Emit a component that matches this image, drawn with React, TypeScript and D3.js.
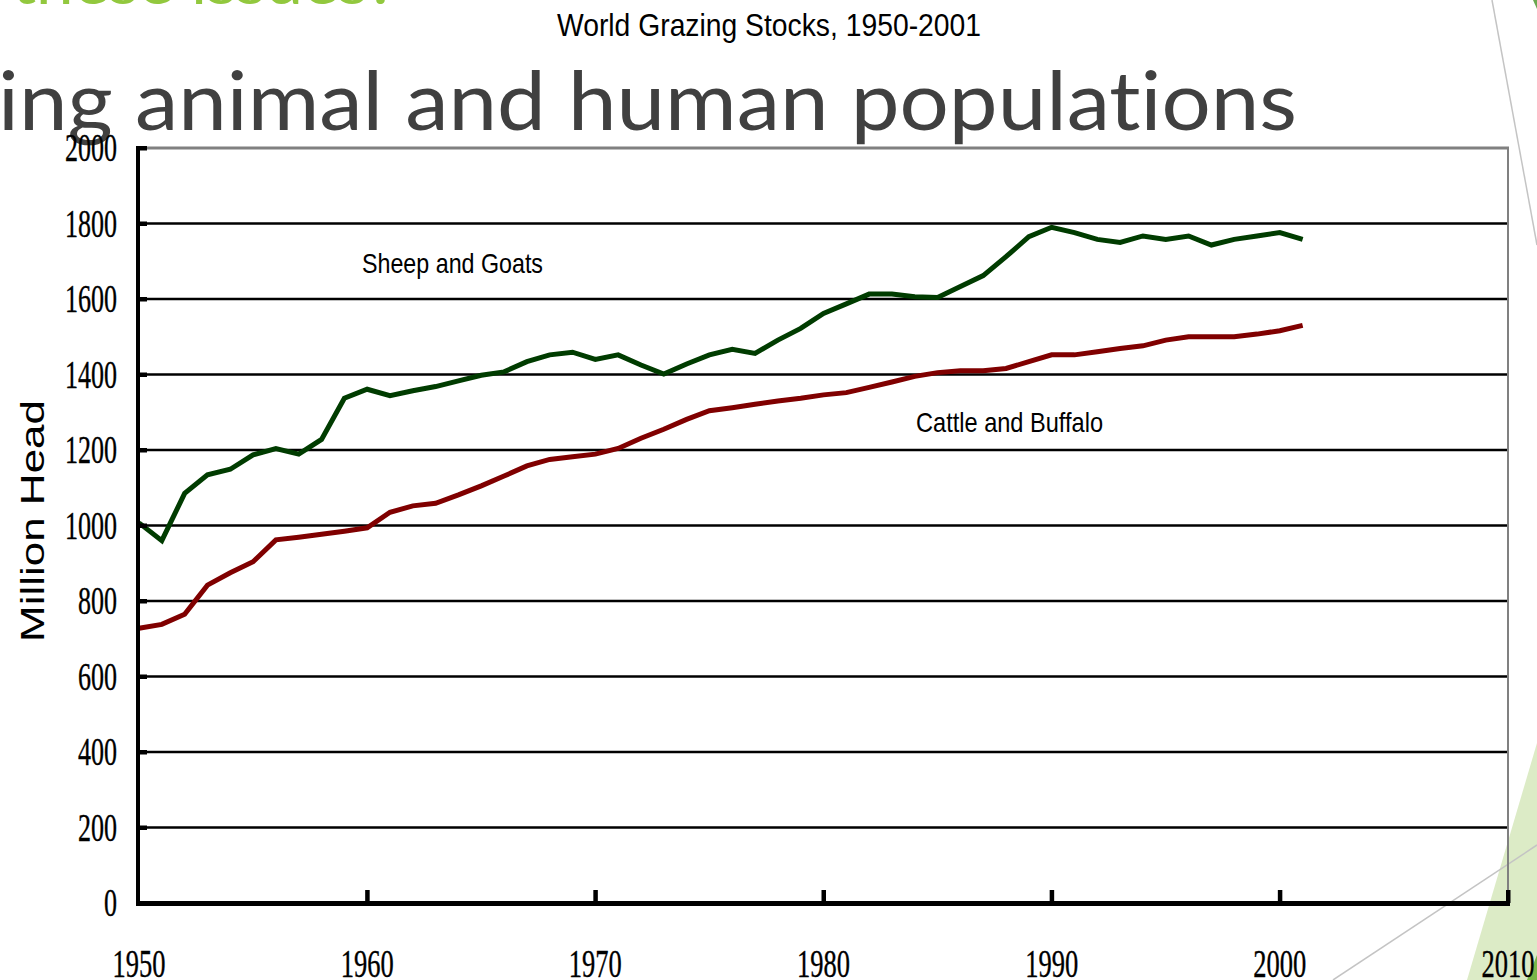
import React from "react";
import * as d3 from "d3";

const years: number[] = d3.range(1950, 2002);

const sheepGoats: number[] = [
  1007, 960, 1085, 1134, 1149, 1187, 1204, 1189, 1228, 1337,
  1361, 1344, 1357, 1368, 1383, 1398, 1407, 1434, 1452, 1459,
  1440, 1452, 1425, 1401, 1428, 1452, 1467, 1456, 1491, 1522,
  1562, 1587, 1613, 1613, 1606, 1604, 1633, 1662, 1712, 1765,
  1790, 1776, 1758, 1750, 1767, 1758, 1767, 1743, 1758, 1767,
  1776, 1758,
];

const cattleBuffalo: number[] = [
  728, 738, 765, 842, 875, 904, 962, 969, 977, 985,
  994, 1035, 1052, 1059, 1081, 1105, 1131, 1158, 1175, 1182,
  1189, 1204, 1231, 1255, 1281, 1304, 1312, 1321, 1330, 1337,
  1346, 1352, 1366, 1380, 1395, 1405, 1410, 1410, 1416, 1434,
  1452, 1452, 1460, 1469, 1476, 1491, 1500, 1500, 1500, 1507,
  1516, 1530,
];

const yTicks: number[] = [0, 200, 400, 600, 800, 1000, 1200, 1400, 1600, 1800, 2000];
const xTicks: number[] = [1950, 1960, 1970, 1980, 1990, 2000, 2010];

const chartTitle = "World Grazing Stocks, 1950-2001";
const slideTitle = "ing animal and human populations";
const slideTopText = "these issues?";
const yAxisLabel = "Million Head";
const seriesLabels = ["Sheep and Goats", "Cattle and Buffalo"];

export default function App() {
  const left = 139;
  const right = 1508;
  const top = 148;
  const bottom = 903;
  const x = d3.scaleLinear().domain([1950, 2010]).range([left, right]);
  const y = d3.scaleLinear().domain([0, 2000]).range([bottom, top]);

  const line = d3
    .line<number>()
    .x((_, i) => x(years[i]))
    .y((d) => y(d));

  const serif = "'Liberation Serif', 'Times New Roman', serif";
  const narrow = "'Liberation Sans Narrow', 'Arial Narrow', 'Liberation Sans', Arial, sans-serif";

  return (
    <svg
      width={1537}
      height={980}
      style={{ position: "absolute", left: 0, top: 0, display: "block", background: "#fff" }}
    >
      {/* slide decorations */}
      <polygon points="1537,743 1467,980 1537,980" fill="#dcebc6" />
      <polygon points="1527,980 1537,955 1537,980" fill="#7ab648" />
      <polygon points="1533,0 1537,0 1537,9" fill="#6aa84f" />
      <line x1={1492} y1={0} x2={1537} y2={245} stroke="#c4c4c4" strokeWidth={1.5} />
      <line x1={1333} y1={980} x2={1537} y2={845} stroke="#c4c4c4" strokeWidth={1.5} />

      <text
        x={12}
        y={4}
        fontFamily="Lato, 'Open Sans', sans-serif"
        fontSize={60}
        fill="#92c83e"
        textLength={385}
        lengthAdjust="spacingAndGlyphs"
      >
        {slideTopText}
      </text>

      <text
        x={-2}
        y={130}
        fontFamily="Lato, 'Open Sans', sans-serif"
        fontSize={82}
        fill="#404040"
        textLength={1299}
        lengthAdjust="spacingAndGlyphs"
        style={{ fontVariantLigatures: "none" }}
      >
        {slideTitle}
      </text>

      {/* chart title */}
      <text
        x={769}
        y={36}
        textAnchor="middle"
        fontFamily={narrow}
        fontSize={32}
        fill="#000"
        textLength={424}
        lengthAdjust="spacingAndGlyphs"
      >
        {chartTitle}
      </text>

      {/* gridlines */}
      {yTicks
        .filter((t) => t > 0 && t < 2000)
        .map((t) => (
          <line key={"g" + t} x1={left} x2={right} y1={y(t)} y2={y(t)} stroke="#000" strokeWidth={2.5} />
        ))}
      <line x1={left} x2={right + 1} y1={y(2000)} y2={y(2000)} stroke="#808080" strokeWidth={3} />
      <line x1={right} x2={right} y1={top} y2={bottom} stroke="#808080" strokeWidth={2} />

      {/* series */}
      <path d={line(sheepGoats) || ""} fill="none" stroke="#003c00" strokeWidth={5} />
      <path d={line(cattleBuffalo) || ""} fill="none" stroke="#800000" strokeWidth={5} />

      {/* axes */}
      <line x1={left - 1} x2={left - 1} y1={top - 2} y2={bottom + 3} stroke="#000" strokeWidth={4} />
      <line x1={left - 3} x2={right + 2} y1={bottom + 0.5} y2={bottom + 0.5} stroke="#000" strokeWidth={5} />
      {yTicks.map((t) => (
        <rect key={"yt" + t} x={left} y={y(t) - 2} width={8} height={4.5} fill="#000" />
      ))}
      {xTicks
        .filter((t) => t > 1950)
        .map((t) => (
          <rect key={"xt" + t} x={x(t) - 2} y={bottom - 13} width={4.5} height={13} fill="#000" />
        ))}

      {/* tick labels */}
      {yTicks.map((t) => {
        const s = String(t);
        return (
          <text
            key={"yl" + t}
            x={117}
            y={y(t) + 13}
            textAnchor="end"
            fontFamily={serif}
            fontSize={40}
            fill="#000"
            stroke="#000"
            strokeWidth={0.4}
            textLength={s.length * 13}
            lengthAdjust="spacingAndGlyphs"
          >
            {s}
          </text>
        );
      })}
      {xTicks.map((t) => {
        const s = String(t);
        return (
          <text
            key={"xl" + t}
            x={x(t)}
            y={977}
            textAnchor="middle"
            fontFamily={serif}
            fontSize={40}
            fill="#000"
            stroke="#000"
            strokeWidth={0.4}
            textLength={53}
            lengthAdjust="spacingAndGlyphs"
          >
            {s}
          </text>
        );
      })}

      {/* y axis label */}
      <text
        transform={`translate(44, 521) rotate(-90)`}
        textAnchor="middle"
        fontFamily="'Liberation Sans', Arial, sans-serif"
        fontSize={33}
        fill="#000"
        textLength={242}
        lengthAdjust="spacingAndGlyphs"
      >
        {yAxisLabel}
      </text>

      {/* series labels */}
      <text
        x={362}
        y={273}
        fontFamily={narrow}
        fontSize={28}
        fill="#000"
        textLength={181}
        lengthAdjust="spacingAndGlyphs"
      >
        {seriesLabels[0]}
      </text>
      <text
        x={916}
        y={432}
        fontFamily={narrow}
        fontSize={28}
        fill="#000"
        textLength={187}
        lengthAdjust="spacingAndGlyphs"
      >
        {seriesLabels[1]}
      </text>
    </svg>
  );
}
